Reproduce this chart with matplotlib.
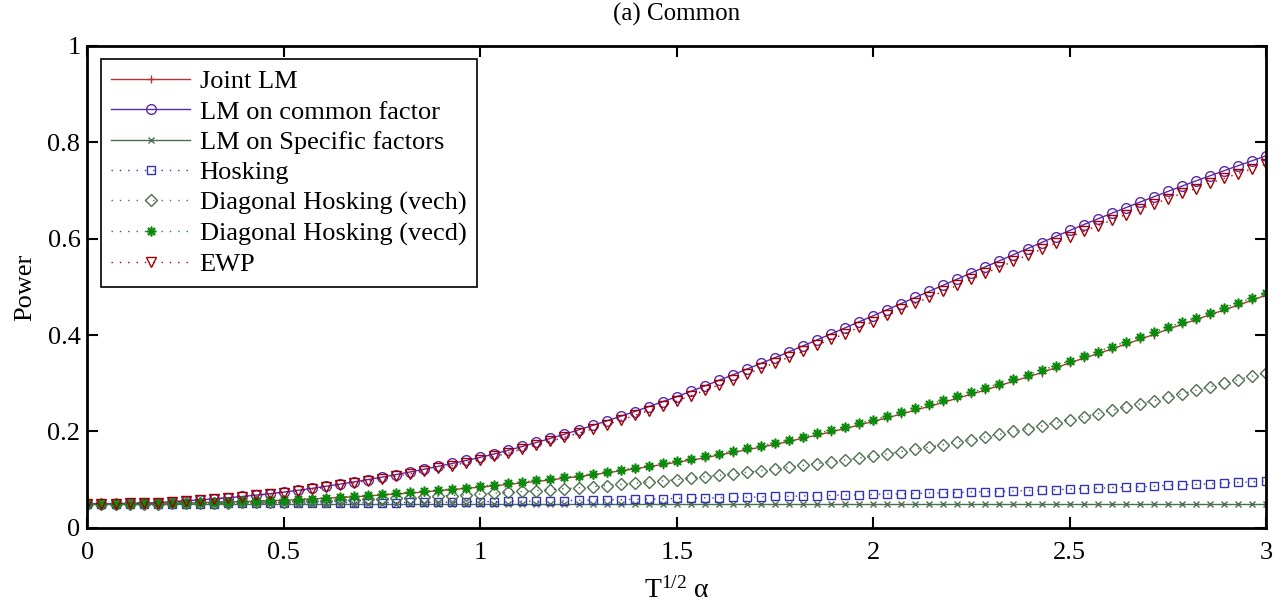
import numpy as np
import matplotlib
matplotlib.use("Agg")
import matplotlib.pyplot as plt

plt.rcParams['font.family'] = ['Liberation Serif', 'DejaVu Serif']
plt.rcParams['mathtext.fontset'] = 'custom'
plt.rcParams['mathtext.rm'] = 'Liberation Serif'
plt.rcParams['mathtext.it'] = 'Liberation Serif:italic'

# x grid: T^{1/2} alpha, 85 points from 0 to 3
x = np.linspace(0, 3, 85)

joint_lm = [0.050,0.050,0.050,0.050,0.050,0.051,0.051,0.051,
            0.052,0.053,0.054,0.054,0.055,0.056,0.057,
            0.058,0.060,0.061,0.063,0.064,0.066,0.068,
            0.070,0.072,0.074,0.077,0.079,0.082,0.084,
            0.087,0.090,0.093,0.096,0.099,0.103,0.106,
            0.110,0.114,0.118,0.122,0.127,0.131,0.136,
            0.140,0.145,0.151,0.156,0.162,0.167,0.173,
            0.179,0.186,0.192,0.199,0.206,0.213,0.221,
            0.228,0.236,0.244,0.252,0.260,0.269,0.277,
            0.286,0.295,0.304,0.313,0.322,0.332,0.342,
            0.352,0.361,0.371,0.381,0.391,0.401,0.412,
            0.422,0.432,0.442,0.452,0.462,0.472,0.483]

lm_common = [0.050,0.050,0.050,0.051,0.051,0.052,0.054,0.056,
             0.0578,0.0599,0.0622,0.0648,0.0676,0.0707,0.074,
             0.0777,0.0817,0.0860,0.0905,0.0952,0.1000,0.105,
             0.1103,0.1158,0.1215,0.1274,0.1334,0.1396,0.146,
             0.1532,0.1608,0.1687,0.1769,0.1854,0.1941,0.203,
             0.2122,0.2216,0.2313,0.2412,0.2513,0.2616,0.272,
             0.2830,0.2943,0.3058,0.3174,0.3292,0.3411,0.353,
             0.3652,0.3775,0.3899,0.4024,0.4149,0.4275,0.440,
             0.4527,0.4654,0.4781,0.4908,0.5035,0.5162,0.529,
             0.5416,0.5542,0.5668,0.5794,0.5920,0.6045,0.617,
             0.6291,0.6410,0.6527,0.6643,0.6757,0.6869,0.698,
             0.7090,0.7198,0.7305,0.7410,0.7514,0.7617,0.772]

lm_specific = [0.050,0.050,0.050,0.050,0.050,0.050,0.050,0.050,
               0.050,0.050,0.050,0.050,0.050,0.050,0.050,
               0.050,0.050,0.050,0.050,0.050,0.050,0.050,
               0.050,0.050,0.050,0.050,0.050,0.050,0.050,
               0.050,0.050,0.050,0.050,0.050,0.050,0.050,
               0.050,0.050,0.050,0.050,0.050,0.050,0.050,
               0.050,0.050,0.050,0.050,0.050,0.050,0.050,
               0.050,0.050,0.050,0.050,0.050,0.050,0.050,
               0.050,0.050,0.050,0.050,0.050,0.050,0.050,
               0.050,0.050,0.050,0.050,0.050,0.050,0.050,
               0.050,0.050,0.050,0.050,0.050,0.050,0.050,
               0.050,0.050,0.050,0.050,0.050,0.050,0.050]

hosking = [0.050,0.050,0.050,0.050,0.050,0.050,0.050,0.050,
           0.050,0.050,0.051,0.051,0.051,0.051,0.051,
           0.051,0.051,0.052,0.052,0.052,0.052,0.052,
           0.052,0.053,0.053,0.053,0.053,0.054,0.054,
           0.054,0.055,0.055,0.055,0.056,0.056,0.057,
           0.057,0.058,0.058,0.059,0.059,0.060,0.061,
           0.061,0.062,0.062,0.063,0.063,0.064,0.065,
           0.065,0.066,0.066,0.067,0.068,0.068,0.069,
           0.070,0.070,0.071,0.072,0.072,0.073,0.074,
           0.075,0.075,0.076,0.077,0.078,0.079,0.080,
           0.081,0.082,0.083,0.084,0.085,0.086,0.088,
           0.089,0.090,0.091,0.092,0.094,0.095,0.097]

diag_vech = [0.050,0.050,0.050,0.050,0.050,0.050,0.051,0.051,
             0.0513,0.0516,0.0520,0.0524,0.0528,0.0534,0.054,
             0.0547,0.0555,0.0563,0.0572,0.0581,0.0590,0.060,
             0.0612,0.0625,0.0639,0.0653,0.0668,0.0684,0.070,
             0.0717,0.0734,0.0752,0.0771,0.0790,0.0810,0.083,
             0.0852,0.0875,0.0899,0.0923,0.0948,0.0974,0.100,
             0.1028,0.1057,0.1087,0.1118,0.1151,0.1185,0.122,
             0.1256,0.1293,0.1331,0.1370,0.1409,0.1449,0.149,
             0.1534,0.1580,0.1627,0.1675,0.1725,0.1776,0.183,
             0.1885,0.1941,0.1998,0.2056,0.2116,0.2177,0.224,
             0.2304,0.2369,0.2435,0.2502,0.2570,0.2639,0.271,
             0.2781,0.2853,0.2925,0.2998,0.3071,0.3145,0.322]

diag_vecd = [0.050,0.050,0.050,0.050,0.051,0.051,0.051,0.052,
             0.0526,0.0533,0.0541,0.0550,0.0559,0.0569,0.058,
             0.0592,0.0605,0.0620,0.0636,0.0653,0.0671,0.069,
             0.0711,0.0733,0.0756,0.0780,0.0805,0.0831,0.086,
             0.0889,0.0919,0.0950,0.0981,0.1013,0.1046,0.108,
             0.1119,0.1160,0.1202,0.1245,0.1289,0.1334,0.138,
             0.1430,0.1482,0.1535,0.1589,0.1645,0.1702,0.176,
             0.1824,0.1890,0.1958,0.2027,0.2097,0.2168,0.224,
             0.2317,0.2396,0.2477,0.2559,0.2642,0.2726,0.281,
             0.2899,0.2990,0.3082,0.3175,0.3269,0.3364,0.346,
             0.3558,0.3657,0.3757,0.3857,0.3958,0.4059,0.416,
             0.4261,0.4362,0.4463,0.4564,0.4665,0.4766,0.487]

ewp = [0.050,0.050,0.050,0.051,0.051,0.052,0.054,0.055,
       0.057,0.059,0.062,0.064,0.067,0.070,0.073,
       0.076,0.080,0.084,0.088,0.093,0.098,0.102,
       0.107,0.112,0.118,0.123,0.129,0.135,0.141,
       0.148,0.155,0.163,0.171,0.179,0.188,0.196,
       0.205,0.214,0.223,0.233,0.243,0.253,0.263,
       0.274,0.285,0.296,0.307,0.319,0.331,0.342,
       0.354,0.366,0.379,0.391,0.403,0.416,0.428,
       0.441,0.453,0.466,0.478,0.491,0.503,0.516,
       0.528,0.541,0.553,0.566,0.578,0.591,0.603,
       0.615,0.627,0.638,0.650,0.661,0.672,0.683,
       0.694,0.704,0.715,0.725,0.735,0.745,0.755]

labels = ["Joint LM", "LM on common factor", "LM on Specific factors", "Hosking",
          "Diagonal Hosking (vech)", "Diagonal Hosking (vecd)", "EWP"]
xticks = [0, 0.5, 1, 1.5, 2, 2.5, 3]
xticklabels = ["0", "0.5", "1", "1.5", "2", "2.5", "3"]
yticks = [0, 0.2, 0.4, 0.6, 0.8, 1]
yticklabels = ["0", "0.2", "0.4", "0.6", "0.8", "1"]

fig = plt.figure(figsize=(12.84, 6.10), dpi=100)
ax = fig.add_axes([0.0681, 0.1349, 0.9179, 0.7897])

dot = (0, (1, 5))
mfc = 'none'
ax.plot(x, joint_lm, color='#b03535', lw=1.0, marker='+', ms=6, mew=1.0, label=labels[0])
ax.plot(x, lm_common, color='#5a2aa8', lw=1.0, marker='o', ms=7, mfc=mfc, mew=1.0, label=labels[1])
ax.plot(x, lm_specific, color='#4a6e4e', lw=1.0, marker='x', ms=4, mew=1.0, label=labels[2])
ax.plot(x, hosking, color='#3535a8', lw=1.0, ls=dot, marker='s', ms=5.5, mfc=mfc, mew=1.0, label=labels[3])
ax.plot(x, diag_vech, color='#4f6f4f', lw=1.0, ls=dot, marker='D', ms=6, mfc=mfc, mew=1.0, label=labels[4])
ax.plot(x, diag_vecd, color='#0a8a0a', lw=1.0, ls=dot, marker=(8, 2, 0), ms=7, mew=1.2, label=labels[5])
ax.plot(x, ewp, color='#a00000', lw=1.0, ls=dot, marker='v', ms=7.5, mfc=mfc, mew=1.0, label=labels[6])

ax.set_xlim(0, 3)
ax.set_ylim(0, 1)
ax.set_xticks(xticks)
ax.set_xticklabels(xticklabels)
ax.set_yticks(yticks)
ax.set_yticklabels(yticklabels)
ax.tick_params(direction='in', top=True, right=True, length=8, width=1.5,
               labelsize=19)
ax.tick_params(axis='x', pad=10)
ax.tick_params(axis='y', pad=5)
for s in ax.spines.values():
    s.set_linewidth(2.0)

ax.set_title("(a) Common", fontsize=18, pad=18)
ax.set_xlabel("T$^{\\mathrm{1/2}}$ α", fontsize=20, labelpad=10)
ax.set_ylabel("Power", fontsize=19, labelpad=8)

leg = ax.legend(loc='upper left', fontsize=19, numpoints=1, handlelength=3.0,
                handletextpad=0.35, labelspacing=0.26, borderpad=0.4,
                borderaxespad=0.5, fancybox=False, framealpha=1, edgecolor='black')
leg.get_frame().set_linewidth(1.2)

fig.savefig("out.png", dpi=100)
